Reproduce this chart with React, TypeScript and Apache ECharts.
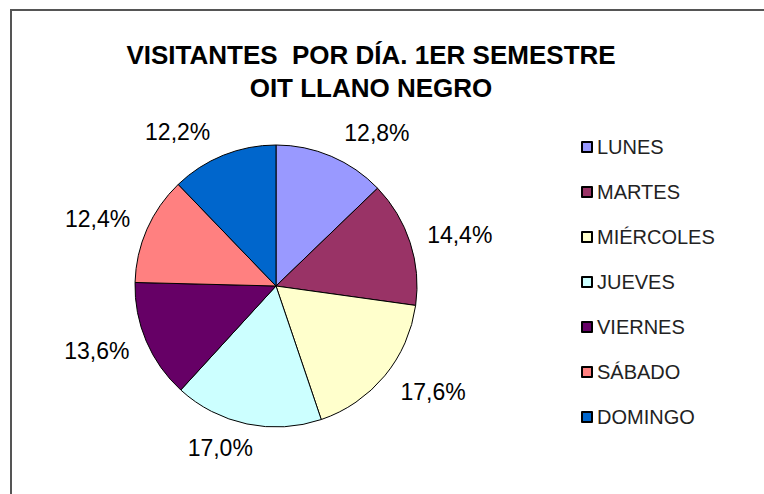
import React, { useEffect, useRef } from "react";
import * as echarts from "echarts";

const categories = ["LUNES", "MARTES", "MIÉRCOLES", "JUEVES", "VIERNES", "SÁBADO", "DOMINGO"];
const values = [12.8, 14.4, 17.6, 17.0, 13.6, 12.4, 12.2];
const colors = ["#9999FF", "#993366", "#FFFFCC", "#CCFFFF", "#660066", "#FF8080", "#0066CC"];
const titleText = "VISITANTES  POR DÍA. 1ER SEMESTRE\nOIT LLANO NEGRO";

const FONT = "'Liberation Sans', Arial, sans-serif";
const CX = 276;
const CY = 286;
const R = 141;

export default function App() {
  const ref = useRef<HTMLDivElement>(null);
  useEffect(() => {
    if (!ref.current) return;
    const chart = echarts.init(ref.current, undefined, { renderer: "svg" });
    const total = values.reduce((a, b) => a + b, 0);
    const fmt = (v: number) => v.toFixed(1).replace(".", ",") + "%";
    chart.setOption({
      animation: false,
      backgroundColor: "#ffffff",
      title: {
        text: titleText,
        left: 371,
        top: 38,
        textAlign: "center",
        padding: 0,
        textStyle: {
          fontFamily: FONT,
          fontSize: 26,
          fontWeight: "bold",
          lineHeight: 33,
          color: "#000",
        },
      },
      legend: {
        orient: "vertical",
        left: 581,
        top: 137,
        padding: 0,
        itemWidth: 10,
        itemHeight: 10,
        itemGap: 25,
        icon: "rect",
        selectedMode: false,
        data: categories,
        textStyle: {
          fontFamily: FONT,
          fontSize: 20,
          lineHeight: 20,
          color: "#222",
        },
      },
      graphic: [
        {
          type: "rect",
          shape: { x: 11, y: 10, width: 800, height: 600 },
          style: { fill: "none", stroke: "#555", lineWidth: 2 },
          silent: true,
        },
      ],
      series: [
        {
          type: "pie",
          center: [CX, CY],
          radius: R,
          startAngle: 90,
          clockwise: true,
          silent: true,
          emphasis: { disabled: true },
          itemStyle: { borderColor: "#000", borderWidth: 1 },
          label: {
            show: true,
            position: "outside",
            fontFamily: FONT,
            fontSize: 23,
            color: "#000",
            formatter: (p: any) => fmt(p.value),
          },
          labelLine: { show: false },
          labelLayout: (p: any) => {
            const i = p.dataIndex;
            let before = 0;
            for (let k = 0; k < i; k++) before += values[k];
            const mid = ((before + values[i] / 2) / total) * Math.PI * 2;
            const s = Math.sin(mid);
            const c = Math.cos(mid);
            const k = 43 * Math.sign(s) * Math.min(1, Math.abs(s) / 0.35);
            return {
              x: CX + 148 * s + k,
              y: CY - 166 * c,
              align: "center",
              verticalAlign: "middle",
            };
          },
          data: categories.map((name, i) => ({
            name,
            value: values[i],
            itemStyle: { color: colors[i] },
          })),
        },
      ],
    });
    return () => chart.dispose();
  }, []);
  return (
    <div
      ref={ref}
      style={{ position: "fixed", left: 0, top: 0, width: 764, height: 494 }}
    />
  );
}
